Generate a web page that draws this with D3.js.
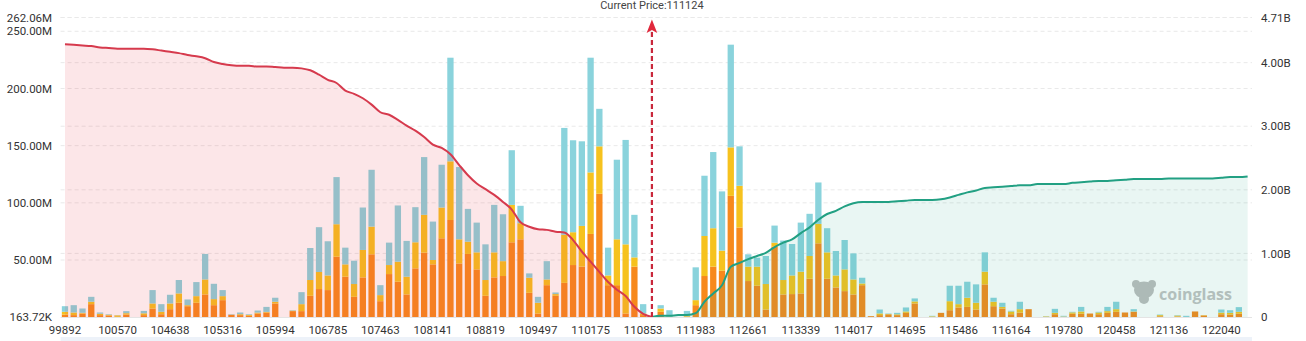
<!DOCTYPE html>
<html><head><meta charset="utf-8">
<script src="https://cdn.jsdelivr.net/npm/d3@7"></script>
<style>
html,body{margin:0;padding:0;background:#fff;overflow:hidden;}
svg{display:block;font-family:Roboto,"DejaVu Sans",sans-serif;}
</style></head><body>
<svg id="chart" width="1306" height="341"></svg>
<script>
// ---------- data ----------
const xTickLabels = ["99892","100570","104638","105316","105994","106785","107463","108141","108819","109497","110175","110853","111983","112661","113339","114017","114695","115486","116164","119780","120458","121136","122040"];
const categoryCount = 136;
const tickEvery = 6;

const orangeSeg = [
2.3,1.8,3.2,11.4,1.8,1.5,0.3,2.3,0,1.8,
7.6,2.6,7,12.6,9.6,12.6,19.9,10.5,14.9,2.2,
1.8,1.2,3.2,4,12,0,5.3,5.3,18.7,24.6,
23.7,52.9,35.4,17.8,34.8,55,14,37.7,31,19.9,
42.7,56.4,46.2,69,85,47,55.3,41.8,18.7,34.8,
36,65.5,68.1,21.3,3.2,28,18.7,30,45.6,44.2,
72.8,107.9,28,28,3.2,44.2,1.8,0,4.7,0,
0,0.5,10.5,36,44.2,40.6,106.1,78.4,31.6,27.5,
6.7,61.7,19.9,20.2,20.8,33.6,64.6,33.6,26,22.8,
19.9,28,0.9,1.8,2.5,1.8,3.8,12,0,0.3,
3.8,6.1,8.5,9,6.7,28.7,9.6,7.6,2.6,4,
7,0,0.3,2.6,0.3,3,3,3.2,2.6,3.8,
4.7,4.1,4.7,0,0,0.8,0,0.6,0.2,5,
1.5,0,2.6,2.3,3,0];
const yellowSeg = [
2.4,2.3,0.6,2.1,1.2,0.6,1.3,1.2,0,1.6,
4.4,2.1,5,8.2,0.9,5.8,13.1,5.3,3.5,0,
0.8,0.8,0.8,0.6,1.5,0,0.4,6.1,13.8,14.9,
12.8,28.4,10.8,11.2,24,24.2,5.3,7.9,17.5,15.5,
22.8,33.1,3.8,26.9,51.3,21.1,10.7,14.9,13.8,21.9,
13,32.7,14.1,13.2,9.4,5,1.5,42,28.7,35.6,
53.8,41.5,8.5,40.1,60.5,8.1,1.4,0,2.9,0.5,
0,0.5,4.4,35,33.6,17.6,42.4,36.5,12.6,16.7,
22.3,3.5,12.6,16.3,19,19.9,17,23.1,10.5,19,
13.1,1.5,0,1.5,0.3,0.7,1.2,1.8,0,0.5,
0,7.9,2.9,8,5.9,11.1,3.9,1.4,2.4,3,
0,0,0.4,1.2,0.3,1.2,2,0,1.5,1.5,
2.3,0,0.3,0,0,1,0,0.8,0,0,
0.3,0,1.4,1.5,1.7,0];
const tealSeg = [
4.9,6.4,3.8,4.3,1.1,0.5,0.2,1.8,0,2.1,
11.7,6.7,7.6,11.7,5,12.3,22.3,13.4,5.3,0.4,
1.5,0.6,1.8,4.4,3.5,0,0.4,10.5,28,39.2,
29.9,41.2,14.6,20.4,37.1,49.7,8.7,19.6,49.2,31.3,
30.7,50.5,33.6,37.4,90.6,63.2,28.7,26,31.2,41.5,
41,47.8,15.2,3.8,5.2,16,1.4,93.5,80.4,74,
100.3,32.8,24.3,69.6,91.3,37.2,8.2,0,2.9,5.6,
0,4.5,28.7,52.7,66.6,51.8,89.8,34.5,10.8,7.8,
24.5,14.9,34.5,27.5,42.9,36.9,36.2,21.1,21.4,25.7,
22.8,5,0,3.4,0.4,1.3,3.5,2.6,0,0.4,
0,13.5,16.1,14,16.1,16.9,3.5,3.6,0.6,6.5,
0,0,0.2,3.5,0.6,0.5,4,0,0.6,3.7,
6.5,0,2,0,0,0.5,0,0.4,1.0,0,
0,0,2.7,2.3,4.1,0];

// cumulative long liquidations (B), categories 0..67
const longCum = [
4.29,4.28,4.27,4.26,4.24,4.23,4.22,4.22,4.22,4.22,
4.21,4.19,4.17,4.15,4.12,4.10,4.07,4.01,3.98,3.96,
3.95,3.95,3.94,3.94,3.93,3.92,3.92,3.91,3.88,3.81,
3.73,3.68,3.56,3.51,3.44,3.34,3.22,3.18,3.10,3.01,
2.93,2.83,2.71,2.66,2.56,2.39,2.23,2.10,2.01,1.92,
1.81,1.69,1.49,1.42,1.38,1.37,1.34,1.33,1.21,1.03,
0.87,0.71,0.55,0.43,0.33,0.16,0.05,0.0];
// cumulative short liquidations (B), categories 67..135
const shortCum = [
0.0,0.02,0.02,0.03,0.03,0.06,0.24,0.37,0.50,0.79,
0.85,0.91,0.96,1.01,1.10,1.17,1.22,1.32,1.41,1.53,
1.62,1.67,1.74,1.79,1.81,1.81,1.81,1.81,1.82,1.83,
1.84,1.84,1.84,1.85,1.88,1.92,1.96,1.99,2.03,2.04,
2.05,2.06,2.07,2.07,2.09,2.09,2.09,2.09,2.11,2.12,
2.13,2.14,2.14,2.15,2.16,2.17,2.17,2.17,2.17,2.18,
2.18,2.18,2.18,2.18,2.18,2.19,2.20,2.20,2.21];
const currentPrice = 111124;
const currentIndex = 67;

const leftTicks = [0.16372, 50, 100, 150, 200, 250, 262.06];
const leftTickLabels = ["163.72K","50.00M","100.00M","150.00M","200.00M","250.00M","262.06M"];
const rightTicks = [0, 1, 2, 3, 4, 4.71];
const rightTickLabels = ["0","1.00B","2.00B","3.00B","4.00B","4.71B"];

// ---------- layout ----------
const M = {left: 60.6, right: 1252, top: 17.5, bottom: 317};
const svg = d3.select("#chart");

const x = d3.scaleBand().domain(d3.range(categoryCount))
  .range([M.left, M.right]).paddingInner(0.28).paddingOuter(0.14);
const cx = i => x(i) + x.bandwidth() / 2;
const yL = d3.scaleLinear().domain([leftTicks[0], leftTicks[leftTicks.length-1]]).range([M.bottom, M.top]);
const yR = d3.scaleLinear().domain([0, rightTicks[rightTicks.length-1]]).range([M.bottom, M.top]);

// grid lines
const grid = svg.append("g");
leftTicks.slice(1).forEach(v => grid.append("line")
  .attr("x1", M.left).attr("x2", M.right).attr("y1", yL(v)).attr("y2", yL(v))
  .attr("stroke", "#e9e9e9").attr("stroke-dasharray", "4 3"));
rightTicks.slice(1).forEach(v => grid.append("line")
  .attr("x1", M.left).attr("x2", M.right).attr("y1", yR(v)).attr("y2", yR(v))
  .attr("stroke", "#e9e9e9").attr("stroke-dasharray", "4 3"));

// watermark
const wm = svg.append("g").attr("fill", "#bdbdbd");
wm.append("ellipse").attr("cx", 1144).attr("cy", 290).attr("rx", 10).attr("ry", 8.5);
wm.append("ellipse").attr("cx", 1144).attr("cy", 299).attr("rx", 5).attr("ry", 5);
wm.append("circle").attr("cx", 1136).attr("cy", 284).attr("r", 4);
wm.append("circle").attr("cx", 1152).attr("cy", 284).attr("r", 4);
wm.append("text").attr("x", 1159).attr("y", 299.5).attr("font-size", 16).attr("font-weight", 700)
  .attr("font-family", "'Open Sans',Roboto,sans-serif").attr("fill", "#c2c2c2").text("coinglass");

// bars
const rows = d3.range(categoryCount).map(i => ({i, o: orangeSeg[i], y: yellowSeg[i], t: tealSeg[i]}));
const stack = d3.stack().keys(["o", "y", "t"]);
const colors = {o: "#f7891c", y: "#f6c21e", t: "#8ad3dc"};
const series = stack(rows);
svg.append("g").selectAll("g").data(series).join("g")
  .attr("fill", d => colors[d.key])
  .selectAll("rect").data(d => d.filter(s => s[1] - s[0] > 0)).join("rect")
  .attr("x", d => x(d.data.i)).attr("width", x.bandwidth())
  .attr("y", d => yL(Math.max(d[1], leftTicks[0])))
  .attr("height", d => Math.max(0, yL(Math.max(d[0], leftTicks[0])) - yL(Math.max(d[1], leftTicks[0]))));

// cumulative areas + lines
const longPts = longCum.map((v, k) => [k, v]);
const shortPts = shortCum.map((v, k) => [currentIndex + k, v]);
const area = d3.area().x(d => cx(d[0])).y0(yR(0)).y1(d => yR(d[1])).curve(d3.curveMonotoneX);
const line = d3.line().x(d => cx(d[0])).y(d => yR(d[1])).curve(d3.curveMonotoneX);
svg.append("path").attr("d", area(longPts)).attr("fill", "rgba(235,60,80,0.13)");
svg.append("path").attr("d", area(shortPts)).attr("fill", "rgba(38,166,140,0.10)");
svg.append("path").attr("d", line(longPts)).attr("fill", "none").attr("stroke", "#d63a4d").attr("stroke-width", 2);
svg.append("path").attr("d", line(shortPts)).attr("fill", "none").attr("stroke", "#22a083").attr("stroke-width", 2);

// baseline
svg.append("line").attr("x1", M.left).attr("x2", M.right).attr("y1", M.bottom + 0.5).attr("y2", M.bottom + 0.5)
  .attr("stroke", "#e4e4e4");

// current price marker
const px = cx(currentIndex);
svg.append("line").attr("x1", px).attr("x2", px).attr("y1", M.bottom).attr("y2", 31)
  .attr("stroke", "#c9283b").attr("stroke-width", 2.2).attr("stroke-dasharray", "5 3");
svg.append("path").attr("d", `M${px},19.5 L${px+5.3},33 L${px},30 L${px-5.3},33 Z`).attr("fill", "#e0283c");
svg.append("text").attr("x", px).attr("y", 9).attr("text-anchor", "middle")
  .attr("font-size", 11).attr("fill", "#444").text("Current Price:" + currentPrice);

// axes
const axL = svg.append("g").attr("transform", `translate(${M.left},0)`)
  .call(d3.axisLeft(yL).tickValues(leftTicks).tickFormat((d, k) => leftTickLabels[k]).tickSize(0).tickPadding(8.5));
const axR = svg.append("g").attr("transform", `translate(${M.right},0)`)
  .call(d3.axisRight(yR).tickValues(rightTicks).tickFormat((d, k) => rightTickLabels[k]).tickSize(0).tickPadding(9));
const xTickIdx = xTickLabels.map((l, k) => k * tickEvery);
const axB = svg.append("g").attr("transform", `translate(0,${M.bottom})`)
  .call(d3.axisBottom(x).tickValues(xTickIdx).tickFormat(i => xTickLabels[i / tickEvery]).tickSize(0).tickPadding(9));
[axL, axR, axB].forEach(a => {
  a.select(".domain").remove();
  a.selectAll("text").attr("font-size", 11.5).attr("fill", "#333").attr("font-family", "Roboto,sans-serif");
});

// bottom slider strip
svg.append("rect").attr("x", M.left).attr("y", 337).attr("width", M.right - M.left).attr("height", 4)
  .attr("fill", "#edf2f9");
</script>
</body></html>
